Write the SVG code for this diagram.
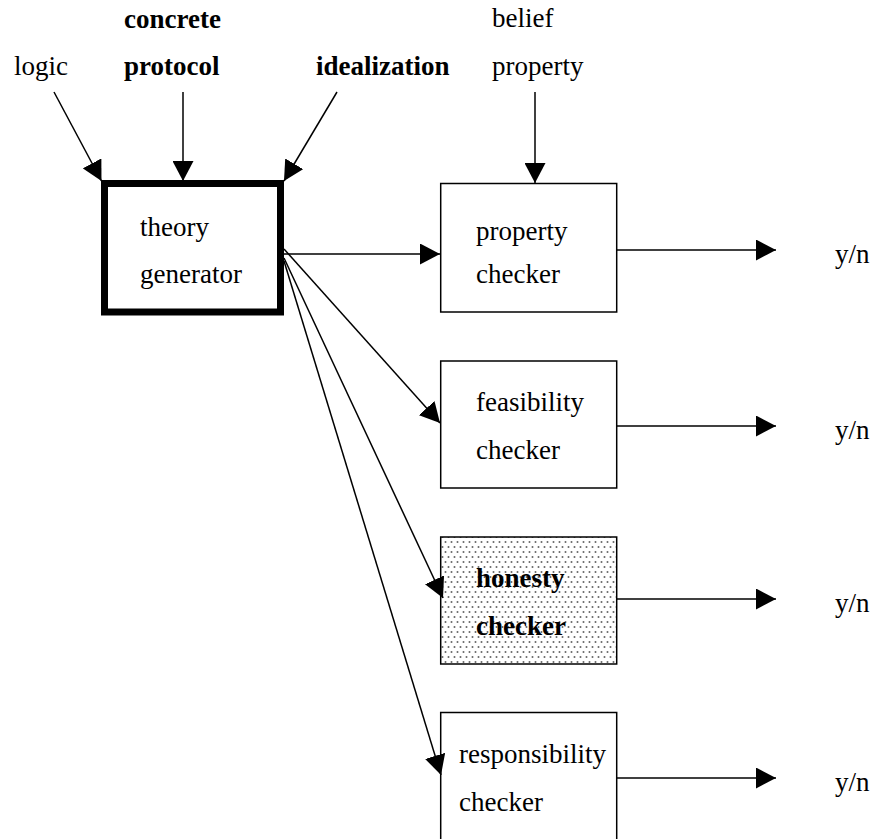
<svg xmlns="http://www.w3.org/2000/svg" width="873" height="839" viewBox="0 0 873 839">
<style>
text{font-family:"Liberation Serif","Times New Roman",serif;font-size:27px;fill:#000}
.b{font-weight:bold}
.box{fill:#fff;stroke:#000;stroke-width:1.5}
.con{stroke:#000;stroke-width:1.5;fill:none;marker-end:url(#ah)}
</style>
<defs>
<marker id="ah" viewBox="0 0 20 21" refX="20" refY="10.5" markerWidth="20" markerHeight="21" markerUnits="userSpaceOnUse" orient="auto">
<path d="M0,0 L20,10.5 L0,21 Z" fill="#000"/>
</marker>
<pattern id="dots" width="6" height="10" patternUnits="userSpaceOnUse">
<rect width="6" height="10" fill="#fff"/>
<circle cx="1.5" cy="2" r="1" fill="#666"/>
<circle cx="4.5" cy="7" r="1" fill="#666"/>
</pattern>
</defs>
<g id="inputs">
<text x="14" y="75">logic</text>
<text class="b" x="124" y="28">concrete</text>
<text class="b" x="124" y="75">protocol</text>
<text class="b" x="316" y="75">idealization</text>
<text x="492" y="27">belief</text>
<text x="492" y="75">property</text>
</g>
<g id="theory-generator">
<rect x="104.5" y="183.5" width="176" height="128.5" fill="#fff" stroke="#000" stroke-width="7"/>
<text x="140" y="236">theory</text>
<text x="140" y="283">generator</text>
</g>
<g id="property-checker">
<rect class="box" x="440.7" y="183.5" width="176" height="128.5"/>
<text x="476" y="240">property</text>
<text x="476" y="283">checker</text>
</g>
<g id="feasibility-checker">
<rect class="box" x="440.7" y="361" width="176" height="127"/>
<text x="476" y="411">feasibility</text>
<text x="476" y="459">checker</text>
</g>
<g id="honesty-checker">
<rect x="440.7" y="537" width="176" height="127" fill="url(#dots)" stroke="#000" stroke-width="1.5"/>
<text class="b" x="476" y="587">honesty</text>
<text class="b" x="476" y="635">checker</text>
</g>
<g id="responsibility-checker">
<rect class="box" x="440.7" y="712.5" width="176" height="140"/>
<text x="459" y="763">responsibility</text>
<text x="459" y="811">checker</text>
</g>
<g id="outputs">
<text x="835" y="263">y/n</text>
<text x="835" y="439">y/n</text>
<text x="835" y="612">y/n</text>
<text x="835" y="791">y/n</text>
</g>
<g id="connectors">
<line class="con" x1="54" y1="92" x2="101.5" y2="181"/>
<line class="con" x1="183" y1="92" x2="183" y2="181"/>
<line class="con" x1="337" y1="92" x2="284" y2="181"/>
<line class="con" x1="535" y1="92" x2="535" y2="183"/>
<line class="con" x1="284" y1="254" x2="440" y2="254"/>
<line class="con" x1="284" y1="249" x2="440" y2="423"/>
<line class="con" x1="284" y1="258" x2="443" y2="598"/>
<line class="con" x1="284" y1="261" x2="441" y2="775"/>
<line class="con" x1="617" y1="250" x2="776" y2="250"/>
<line class="con" x1="617" y1="426" x2="776" y2="426"/>
<line class="con" x1="617" y1="599" x2="776" y2="599"/>
<line class="con" x1="617" y1="778" x2="776" y2="778"/>
</g>
</svg>
